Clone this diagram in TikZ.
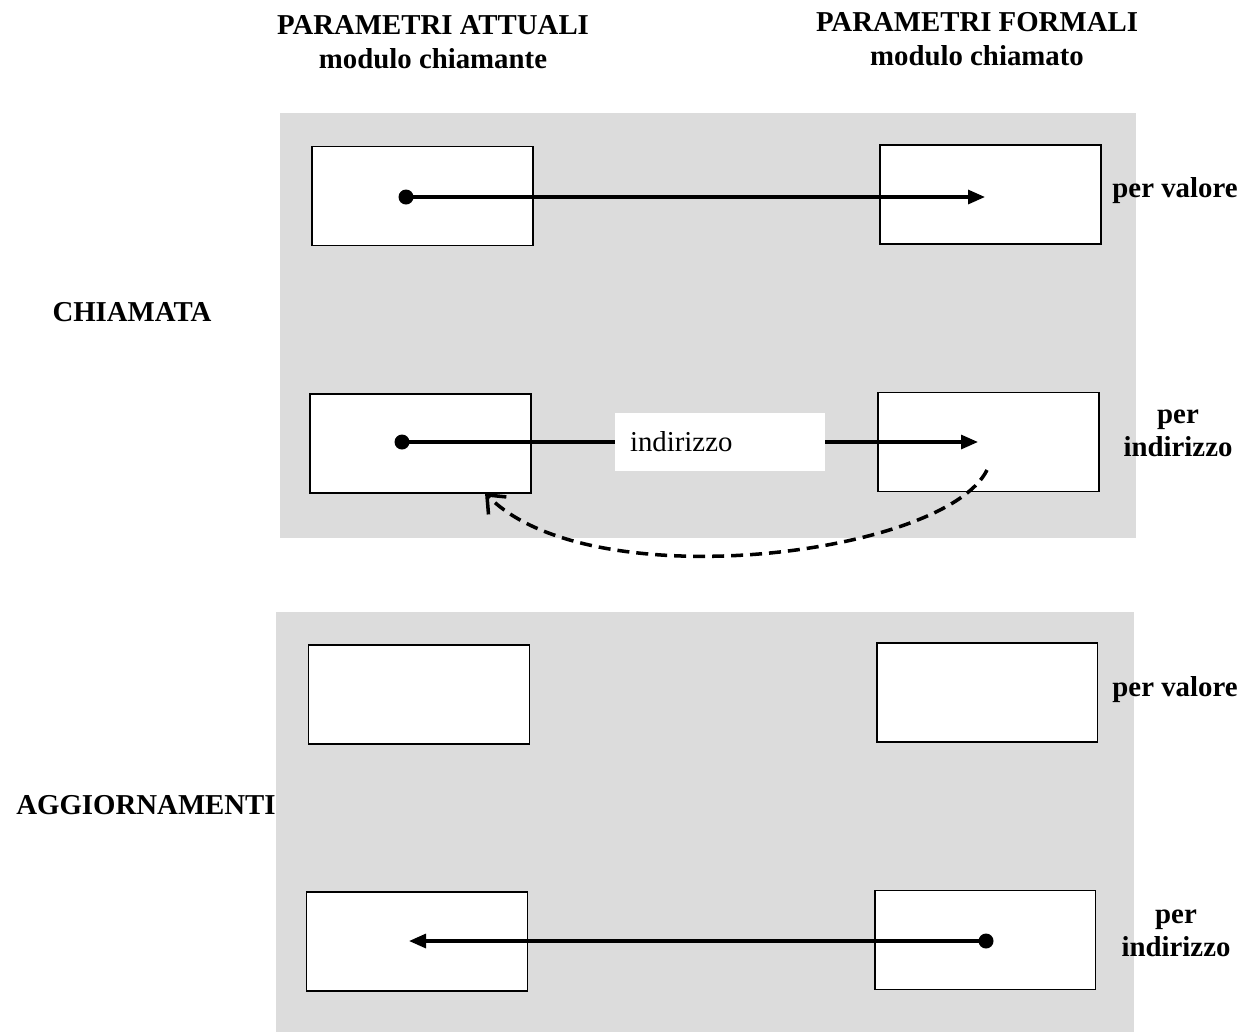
\documentclass[tikz,border=0pt]{standalone}
\usepackage{fontspec}
\setmainfont{Liberation Serif}
\usepackage{tikz}
\usetikzlibrary{positioning,arrows.meta}
\definecolor{panelgray}{RGB}{220,220,220}
\tikzstyle{cell}=[rectangle, draw=black, line width=1.1pt, fill=white,
minimum width=4.42cm, minimum height=1.98cm]
\tikzstyle{dot}=[circle, fill=black, inner sep=0pt, minimum size=0.3cm]
\tikzstyle{link}=[line width=1.8pt, -{Triangle[length=0.34cm,width=0.28cm]}]
\tikzstyle{title}=[font=\fontsize{16.4}{19}\selectfont\bfseries, align=center]

\begin{document}
\begin{tikzpicture}[x=0.02cm, y=-0.02cm]
            \useasboundingbox (0,0) rectangle (1246,1032);
            % grey panels
            \fill[panelgray] (280,113) rectangle (1136,538);
            \fill[panelgray] (276,612) rectangle (1134,1032);

            % headings
            \node (h1)[title] at (433,42) {PARAMETRI ATTUALI\\modulo chiamante};
            \node (h2)[title] at (977,39) {PARAMETRI FORMALI\\modulo chiamato};
            \node (c)[title] at (132,312) {CHIAMATA};
            \node (g)[title] at (146,805) {AGGIORNAMENTI};

            % chiamata
            \node (1)[cell] at (422.5,196) {};
            \node (2)[cell] at (990.5,194.5) {};
            \node (3)[cell] at (420.5,443.5) {};
            \node (4)[cell] at (988.5,442) {};
            \node (v1)[title] at (1175,191) {per valore};
            \node (i1)[title] at (1178,433) {per\\indirizzo};

            \node (d1)[dot] at (406,197) {};
            \coordinate (t1) at (985,197);
            \draw [link] (d1.center) -- (t1);

            \node (d2)[dot] at (402,442) {};
            \coordinate (t2) at (978,442);
            \draw [link] (d2.center) -- (t2);
            \node (ind)[fill=white, minimum width=4.22cm, minimum height=1.16cm,
                text width=3.6cm, font=\fontsize{16.4}{19}\selectfont] at (720,442) {indirizzo};

            \coordinate (s) at (987,470);
            \coordinate (e) at (485,493);
            \draw [dashed, dash pattern=on 0.24cm off 0.14cm, line width=2pt,
                -{Straight Barb[length=0.3cm,width=0.5cm,line width=2pt]}]
                (s) .. controls (945,555) and (590,600) .. (e);

            % aggiornamenti
            \node (5)[cell] at (419,694.5) {};
            \node (6)[cell] at (987,692.5) {};
            \node (7)[cell] at (417,941.5) {};
            \node (8)[cell] at (985,940) {};
            \node (v2)[title] at (1175,690) {per valore};
            \node (i2)[title] at (1176,933) {per\\indirizzo};

            \node (d3)[dot] at (986,941) {};
            \coordinate (t3) at (409,941);
            \draw [link] (d3.center) -- (t3);
        \end{tikzpicture}
\end{document}
